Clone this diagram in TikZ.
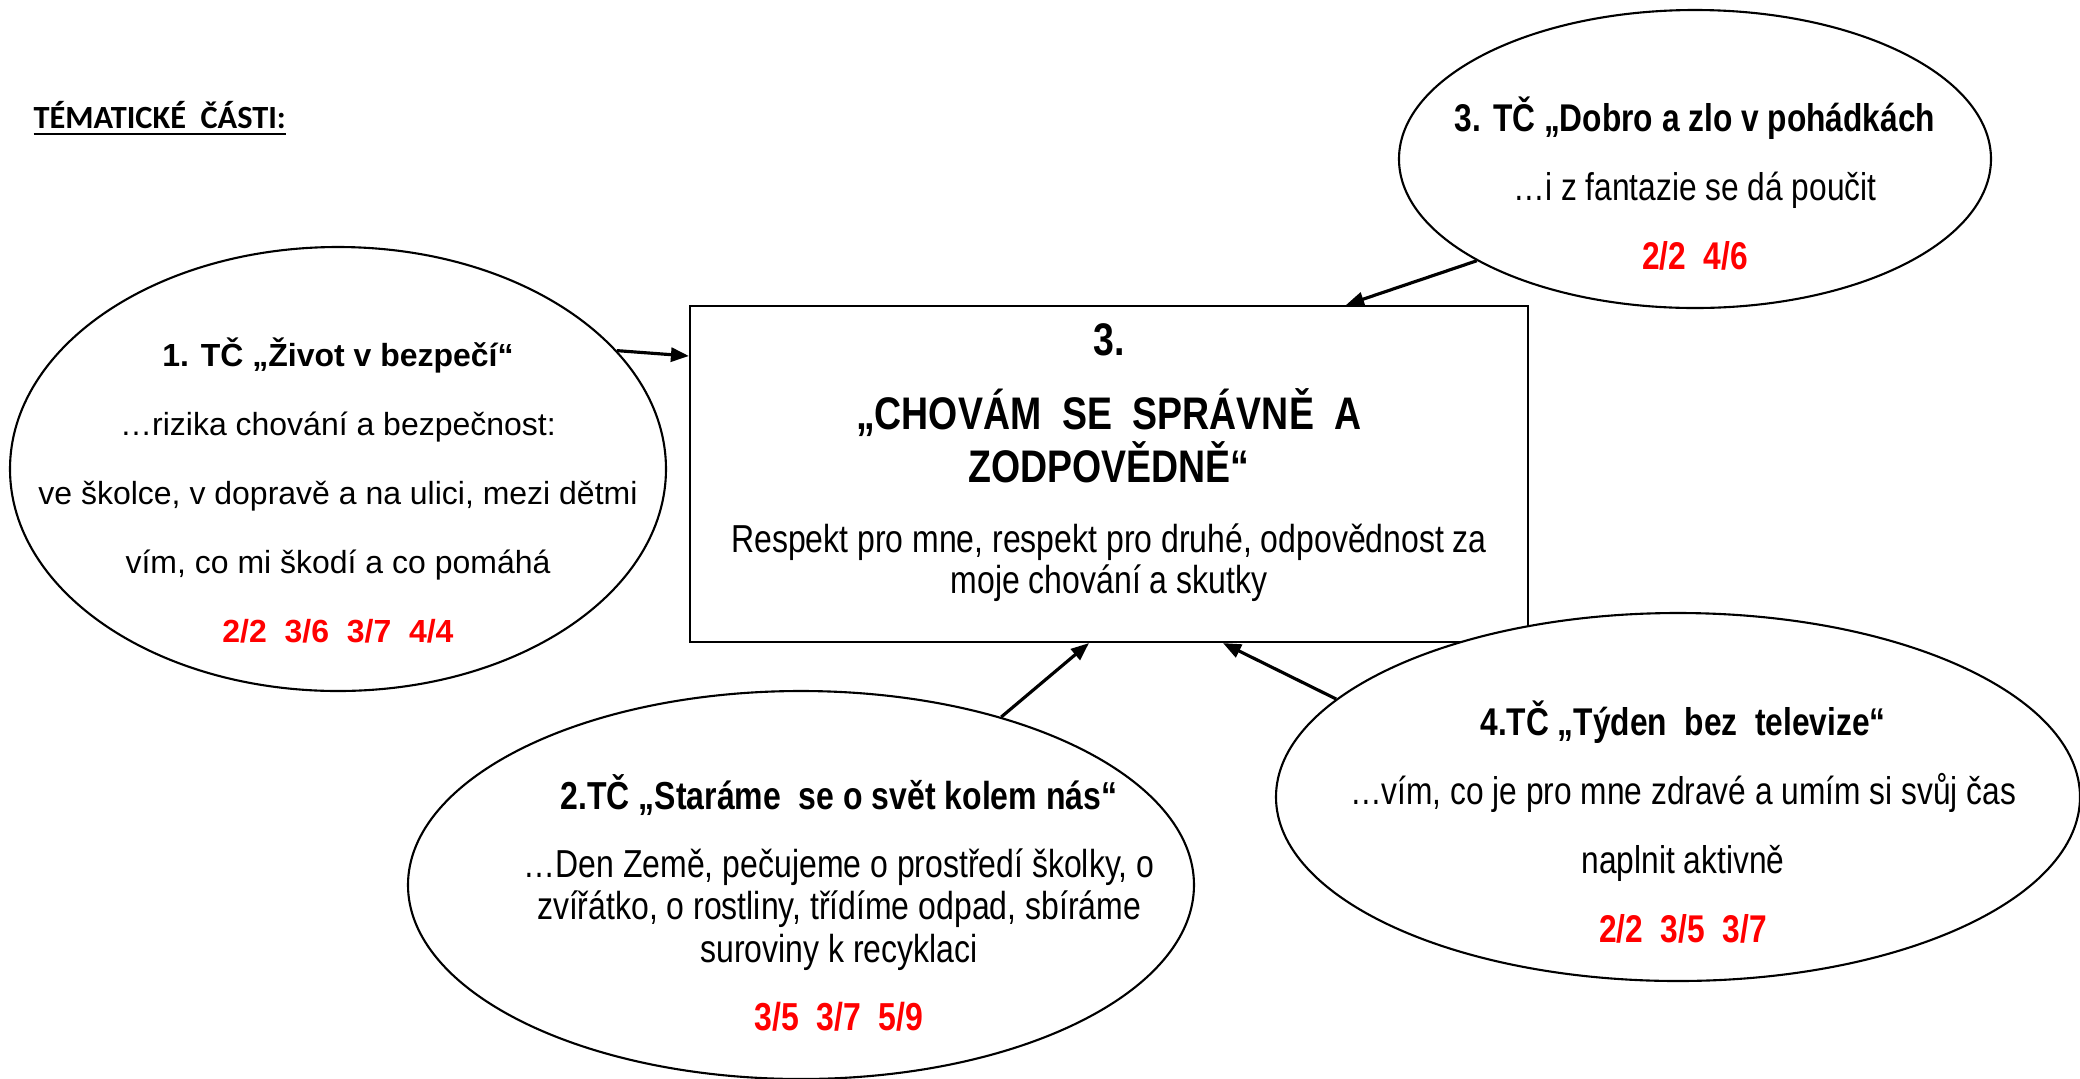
\documentclass[tikz,border=0pt]{standalone}
\usepackage{fontspec}
\setmainfont{Liberation Sans}
\newfontfamily\narrowfont[FakeStretch=0.82]{Liberation Sans}
\newfontfamily\headfont{Carlito}
\usepackage{xcolor}
\usepackage{tikz}
\usetikzlibrary{shapes.geometric}
\usetikzlibrary{arrows.meta}

\newcommand{\goalfont}{\fontsize{13}{14.2}\selectfont\bfseries}
\newcommand{\pad}{\hspace*{0.76cm}}

\begin{document}
\begin{tikzpicture}[node distance=5cm, auto, >={Triangle[length=0.18cm, width=0.14cm]}]
    \tikzstyle{topic} = [ellipse, draw, fill=white, line width=0.6pt, inner sep=-3cm, align=center]
    \tikzstyle{goal} = [rectangle, draw, line width=0.6pt, minimum width=8.38cm, minimum height=3.36cm, align=center, font=\narrowfont\fontsize{11.1}{11.7}\selectfont]
    \tikzstyle{heading} = [font=\headfont\bfseries\fontsize{9.2}{11}\selectfont, inner sep=0pt, anchor=west]
    \tikzstyle{link} = [->, line width=0.9pt]

    \useasboundingbox (0,0) rectangle (20.8,-10.79);

    % Heading
    \node [heading] (heading) at (0.33,-1.19) {\underline{TÉMATICKÉ~ ČÁSTI:}};

    % Goal of the block
    \node [goal] (goal) at (11.09,-4.74) {{\goalfont 3.}\\[8.3pt]
        {\goalfont „CHOVÁM~ SE~ SPRÁVNĚ~ A}\\[0.6pt]
        {\goalfont ZODPOVĚDNĚ“}\\[8pt]
        Respekt pro mne, respekt pro druhé, odpovědnost za\\
        moje chování a skutky\rule[-9pt]{0pt}{9pt}};

    % Topics
    \node [topic, left of=goal, xshift=-2.71cm, yshift=0.05cm, minimum width=6.56cm, minimum height=4.44cm, font=\fontsize{9.1}{19.6}\selectfont] (zivot) {\rule{0pt}{20.5pt}\textbf{1. TČ „Život v bezpečí“}\\
        …rizika chování a bezpečnost:\\
        ve školce, v dopravě a na ulici, mezi dětmi\\
        vím, co mi škodí a co pomáhá\\
        \textcolor{red}{\textbf{2/2~ 3/6~ 3/7~ 4/4}}};
    \node [topic, right of=goal, xshift=0.86cm, yshift=3.15cm, minimum width=5.92cm, minimum height=2.98cm, font=\narrowfont\fontsize{11}{19.6}\selectfont] (pohadky) {\rule{0pt}{23.8pt}\textbf{3. TČ „Dobro a zlo v pohádkách}\\
        …i z fantazie se dá poučit\\
        \textcolor{red}{\textbf{2/2~ 4/6}}};
    \node [topic, below of=goal, xshift=-3.08cm, yshift=0.89cm, minimum width=7.86cm, minimum height=3.88cm, font=\narrowfont\fontsize{11.1}{12.2}\selectfont] (svet) {\pad\rule{0pt}{20.1pt}\textbf{2.TČ „Staráme~ se o svět kolem nás“}\\[7.1pt]
        \pad…Den Země, pečujeme o prostředí školky, o\\
        \pad zvířátko, o rostliny, třídíme odpad, sbíráme\\
        \pad suroviny k recyklaci\\[7.1pt]
        \pad\textcolor{red}{\textbf{3/5~ 3/7~ 5/9}}};
    \node [topic, right of=goal, xshift=0.69cm, yshift=-3.23cm, minimum width=8.04cm, minimum height=3.68cm, font=\narrowfont\fontsize{11}{19.6}\selectfont] (televize) {\rule{0pt}{24.1pt}\hspace*{0.1cm}\textbf{4.TČ „Týden~ bez~ televize“}\\
        \hspace*{0.1cm}…vím, co je pro mne zdravé a umím si svůj čas\\
        \hspace*{0.1cm}naplnit aktivně\\
        \hspace*{0.1cm}\textcolor{red}{\textbf{2/2~ 3/5~ 3/7}}};

    % Connections
    \draw [link] (zivot.23) -- ([yshift=1.18cm]goal.west);
    \draw [link] (pohadky.205) -- ([xshift=2.37cm]goal.north);
    \draw [link] (svet.40) -- ([xshift=-0.2cm]goal.south);
    \draw [link] (televize.164) -- ([xshift=1.14cm]goal.south);
\end{tikzpicture}
\end{document}
